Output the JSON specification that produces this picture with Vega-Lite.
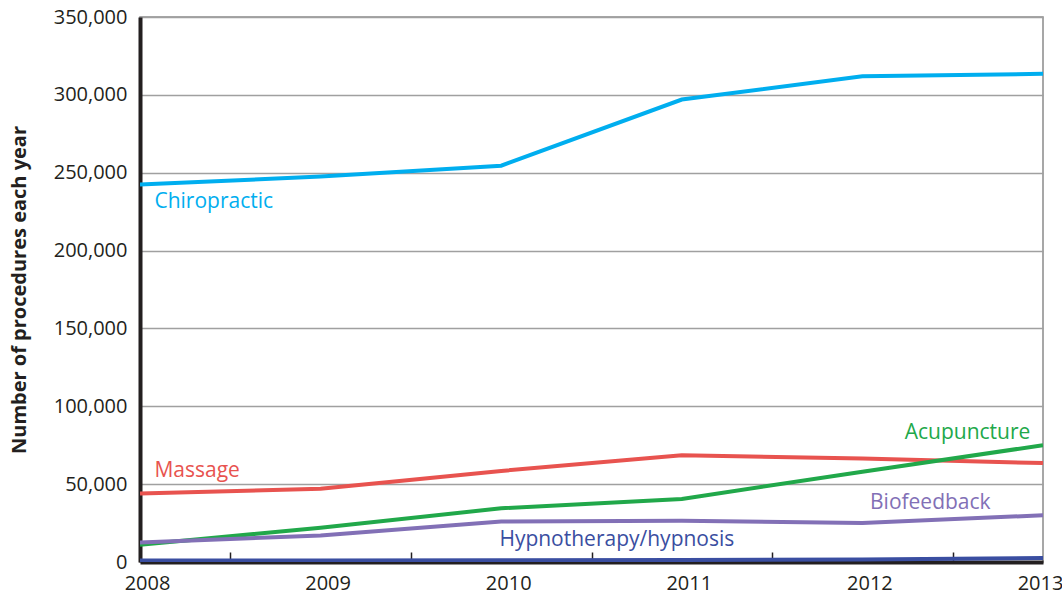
{
  "$schema": "https://vega.github.io/schema/vega-lite/v6.json",
  "width": 903,
  "height": 545,
  "autosize": {"type": "none"},
  "padding": {"left": 140, "top": 17, "right": 19, "bottom": 32},
  "background": "white",
  "config": {
    "font": "Open Sans",
    "view": {"stroke": "#8a8a8a", "strokeWidth": 1.5},
    "axis": {"labelFont": "Open Sans", "titleFont": "Open Sans"}
  },
  "datasets": {
    "series": [
      {"series": "Chiropractic", "year": 2008, "value": 242500},
      {"series": "Chiropractic", "year": 2009, "value": 247500},
      {"series": "Chiropractic", "year": 2010, "value": 254500},
      {"series": "Chiropractic", "year": 2011, "value": 297000},
      {"series": "Chiropractic", "year": 2012, "value": 312000},
      {"series": "Chiropractic", "year": 2013, "value": 313500},
      {"series": "Massage", "year": 2008, "value": 44000},
      {"series": "Massage", "year": 2009, "value": 47000},
      {"series": "Massage", "year": 2010, "value": 58500},
      {"series": "Massage", "year": 2011, "value": 68500},
      {"series": "Massage", "year": 2012, "value": 66500},
      {"series": "Massage", "year": 2013, "value": 63500},
      {"series": "Acupuncture", "year": 2008, "value": 11000},
      {"series": "Acupuncture", "year": 2009, "value": 22000},
      {"series": "Acupuncture", "year": 2010, "value": 34500},
      {"series": "Acupuncture", "year": 2011, "value": 40500},
      {"series": "Acupuncture", "year": 2012, "value": 58000},
      {"series": "Acupuncture", "year": 2013, "value": 75000},
      {"series": "Biofeedback", "year": 2008, "value": 12500},
      {"series": "Biofeedback", "year": 2009, "value": 17000},
      {"series": "Biofeedback", "year": 2010, "value": 26000},
      {"series": "Biofeedback", "year": 2011, "value": 26500},
      {"series": "Biofeedback", "year": 2012, "value": 25000},
      {"series": "Biofeedback", "year": 2013, "value": 30000},
      {"series": "Hypnotherapy/hypnosis", "year": 2008, "value": 900},
      {"series": "Hypnotherapy/hypnosis", "year": 2009, "value": 1000},
      {"series": "Hypnotherapy/hypnosis", "year": 2010, "value": 1100},
      {"series": "Hypnotherapy/hypnosis", "year": 2011, "value": 1300},
      {"series": "Hypnotherapy/hypnosis", "year": 2012, "value": 1600},
      {"series": "Hypnotherapy/hypnosis", "year": 2013, "value": 2600}
    ],
    "labels": [
      {"series": "Chiropractic", "year": 2008.08, "value": 231000, "side": "left"},
      {"series": "Massage", "year": 2008.08, "value": 58500, "side": "left"},
      {"series": "Acupuncture", "year": 2012.93, "value": 83000, "side": "right"},
      {"series": "Biofeedback", "year": 2012.71, "value": 38000, "side": "right"},
      {"series": "Hypnotherapy/hypnosis", "year": 2009.99, "value": 14200, "side": "left"}
    ]
  },
  "encoding": {
    "x": {
      "field": "year",
      "type": "quantitative",
      "scale": {"domain": [2008, 2013], "nice": false, "zero": false},
      "axis": {
        "title": null,
        "values": [2008, 2008.5, 2009, 2009.5, 2010, 2010.5, 2011, 2011.5, 2012, 2012.5, 2013],
        "labelExpr": "datum.value % 1 === 0 ? format(datum.value, 'd') : ''",
        "labelOverlap": false,
        "labelFlush": false,
        "labelFontSize": 20,
        "labelColor": "#231f20",
        "labelPadding": 21,
        "labelOffset": {"condition": {"test": "datum.value === 2013", "value": -3}, "value": 7},
        "grid": false,
        "tickSize": -10,
        "tickWidth": 1.5,
        "tickColor": "#231f20",
        "tickOpacity": {"condition": {"test": "datum.value % 1 !== 0", "value": 1}, "value": 0},
        "domainColor": "#231f20",
        "domainWidth": 4
      }
    },
    "y": {
      "field": "value",
      "type": "quantitative",
      "scale": {"domain": [0, 350000], "nice": false},
      "axis": {
        "title": "Number of procedures each year",
        "titleFontSize": 20,
        "titleFontWeight": "bold",
        "titleColor": "#231f20",
        "titlePadding": 24,
        "values": [0, 50000, 100000, 150000, 200000, 250000, 300000, 350000],
        "format": ",d",
        "labelFontSize": 20,
        "labelColor": "#231f20",
        "labelPadding": 13,
        "ticks": false,
        "grid": true,
        "gridColor": "#a0a0a0",
        "gridWidth": 1.3,
        "domainColor": "#231f20",
        "domainWidth": 4
      }
    },
    "color": {
      "field": "series",
      "type": "nominal",
      "legend": null,
      "scale": {
        "domain": ["Chiropractic", "Massage", "Acupuncture", "Biofeedback", "Hypnotherapy/hypnosis"],
        "range": ["#00aeef", "#e8534f", "#21a84a", "#8270b6", "#3a4ea1"]
      }
    }
  },
  "layer": [
    {
      "data": {"name": "series"},
      "mark": {"type": "line", "strokeWidth": 4, "clip": true}
    },
    {
      "data": {"name": "labels"},
      "transform": [{"filter": "datum.side === 'left'"}],
      "mark": {"type": "text", "fontSize": 21, "baseline": "middle", "align": "left"},
      "encoding": {"text": {"field": "series"}}
    },
    {
      "data": {"name": "labels"},
      "transform": [{"filter": "datum.side === 'right'"}],
      "mark": {"type": "text", "fontSize": 21, "baseline": "middle", "align": "right"},
      "encoding": {"text": {"field": "series"}}
    }
  ]
}
